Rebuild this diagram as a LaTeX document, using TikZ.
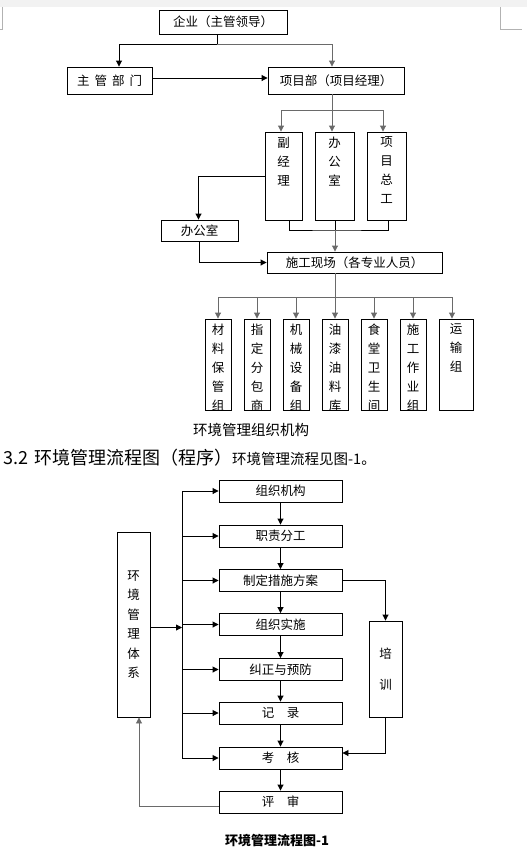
\documentclass[tikz,border=0pt]{standalone}
\usepackage{fontspec}
\setmainfont{Noto Sans CJK SC}
\usetikzlibrary{arrows.meta}
\definecolor{lg}{HTML}{6A6A6A}
\begin{document}
\begin{tikzpicture}[x=1pt,y=-1pt,
  box/.style={draw=black,line width=0.9pt,inner sep=0pt,font=\fontsize{12.5}{19}\selectfont},
  vt/.style={inner sep=0pt,align=center,anchor=north,font=\fontsize{12.5}{19}\selectfont},
  ln/.style={line width=0.9pt},
  arr/.style={line width=0.9pt,-{Triangle[length=6pt,width=6pt]}},
  gl/.style={draw=lg}]
\useasboundingbox (0,0) rectangle (527,855);
\fill[black!5] (0,0) rectangle (527,7);
\draw[black!30,line width=0.8pt] (2,7) -- (2,29) -- (0,29);
\draw[black!30,line width=0.8pt] (500,7) -- (500,29) -- (522,29);

% ---------- organisation chart ----------
\node[box,minimum width=128,minimum height=24] (ent) at (223,22) {企业（主管领导）};
\node[box,minimum width=85,minimum height=27] (zg) at (109.5,80.5) {主\hspace{5pt}管\hspace{5pt}部\hspace{5pt}门};
\node[box,minimum width=136,minimum height=27] (xmb) at (336,80.5) {项目部（项目经理）};
\coordinate (j1) at (217,44);
\draw[ln] (ent.south -| j1) -- (j1);
\draw[arr] (j1) -| ([xshift=9.5pt]zg.north);
\draw[arr,gl] (j1) -| ([xshift=-4pt]xmb.north);
\draw[arr] ([yshift=2.5pt]zg.east) -- ([yshift=2.5pt]xmb.west);

\node[box,minimum width=37,minimum height=88] (fjl) at (283.5,176) {};
\node[vt] at ([yshift=-5pt]fjl.north) {副\\经\\理};
\node[box,minimum width=39,minimum height=88] (bgs) at (334.5,176) {};
\node[vt] at ([yshift=-5pt]bgs.north) {办\\公\\室};
\node[box,minimum width=39,minimum height=88] (xmzg) at (386.5,176) {};
\node[vt] at ([yshift=-5pt]xmzg.north) {项\\目\\总\\工};
\coordinate (j2) at (332,110);
\draw[ln,gl] (xmb.south -| j2) -- (j2);
\draw[arr,gl] (j2) -| ([xshift=-2.5pt]fjl.north);
\draw[arr,gl] (j2) -- (j2 |- bgs.north);
\draw[arr,gl] (j2) -| ([xshift=-3.5pt]xmzg.north);

\node[box,minimum width=77,minimum height=21] (bgs2) at (199.5,230.5) {办公室};
\node[box,minimum width=175,minimum height=21] (sg) at (354.5,262.5) {施工现场（各专业人员）};
\draw[arr] (fjl.west) -| ([xshift=-1pt]bgs2.north);
\draw[arr] ([xshift=-0.5pt]bgs2.south) |- (sg.west);
\coordinate (j3) at (335,230);
\draw[ln] ([xshift=5.5pt]fjl.south) |- (j3) -| ([xshift=1.5pt]xmzg.south);
\draw[ln] (bgs.south -| j3) -- (j3);
\draw[arr,gl] (j3) -- (j3 |- sg.north);

\coordinate (j4) at (335,297);
\draw[ln,gl] (sg.south -| j4) -- (j4);
\foreach \n/\x/\w/\t in {b1/218/26/材\\料\\保\\管\\组, b2/257/26/指\\定\\分\\包\\商, b3/296/26/机\\械\\设\\备\\组, b4/335/26/油\\漆\\油\\料\\库, b5/374/26/食\\堂\\卫\\生\\间, b6/413/26/施\\工\\作\\业\\组, b7/456/34/运\\输\\组}{
  \node[box,minimum width=\w,minimum height=91] (\n) at (\x,364.5) {};
  \node[vt] at ([yshift=-5pt]\n.north) {\t};
}
\draw[ln,gl] (218,297) -- (452,297);
\foreach \n in {b1,b2,b3,b4,b5,b6}{\draw[arr,gl] (j4 -| \n.north) -- (\n.north);}
\draw[arr,gl] (j4 -| 452,0) -- ([xshift=-4pt]b7.north);

\node[font=\fontsize{14.5}{16}\selectfont,inner sep=0pt] (cap1) at (251,430) {环境管理组织机构};
\node[anchor=west,inner sep=0pt] (head) at (3,458) {\fontsize{18}{20}\selectfont 3.2\hspace{2pt} 环境管理流程图（程序）\fontsize{14.5}{16}\selectfont 环境管理流程见图-1。};

% ---------- flow chart ----------
\foreach \n/\y/\t in {s1/491/组织机构, s2/536/职责分工, s3/580.5/制定措施方案, s4/624.5/组织实施, s5/669.5/纠正与预防, s6/713/记\quad 录, s7/758/考\quad 核, s8/802/评\quad 审}{
  \node[box,minimum width=123,minimum height=22] (\n) at (280.5,\y) {\t};
}
\foreach \a/\b in {s1/s2,s2/s3,s3/s4,s4/s5,s5/s6,s6/s7,s7/s8}{\draw[arr] (\a) -- (\b);}
\coordinate (bt) at (182,491);
\coordinate (bb) at (182,758);
\draw[ln] (bt) -- (bb);
\foreach \n in {s1,s2,s3,s4,s5,s6,s7}{\draw[arr] (bt |- \n.west) -- (\n.west);}
\node[box,minimum width=33,minimum height=185] (sys) at (133.5,624.5) {};
\node[inner sep=0pt,align=center,font=\fontsize{12.5}{19.5}\selectfont] at (sys.center) {环\\境\\管\\理\\体\\系};
\draw[arr] ([yshift=-3pt]sys.east) -- ([yshift=-3pt]bt |- sys.east);
\node[box,minimum width=33,minimum height=96] (px) at (385.5,669) {};
\node[inner sep=0pt,align=center,font=\fontsize{12.5}{31}\selectfont] at (px.center) {培\\训};
\draw[arr] (s3.east) -| (px.north);
\draw[arr] (px.south) |- ([yshift=5pt]s7.east);
\draw[arr,gl] ([yshift=-4pt]s8.west) -| ([xshift=5.5pt]sys.south);
\node[font=\fontsize{13}{14}\selectfont\bfseries,inner sep=0pt] (cap2) at (277,841) {环境管理流程图-1};
\end{tikzpicture}
\end{document}
